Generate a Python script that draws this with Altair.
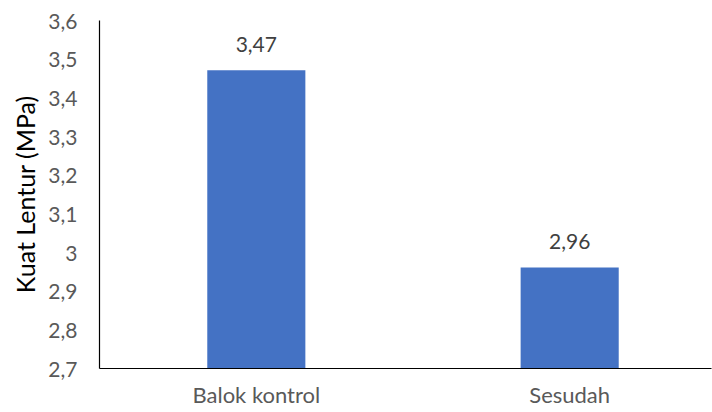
import altair as alt
import pandas as pd

categories = ["Balok kontrol", "Sesudah"]
values = [3.47, 2.96]
y_ticks = [2.7, 2.8, 2.9, 3.0, 3.1, 3.2, 3.3, 3.4, 3.5, 3.6]

df = pd.DataFrame({"cat": categories, "val": values})

FONT = "Lato"
SHIFT = 8

base = alt.Chart(df).encode(
    x=alt.X(
        "cat:N",
        sort=categories,
        title=None,
        scale=alt.Scale(paddingInner=0.687, paddingOuter=0.32),
        axis=alt.Axis(
            labelAngle=0,
            labelFont=FONT,
            labelFontSize=22,
            labelColor="#595959",
            labelPadding=17,
            labelOffset=SHIFT,
            ticks=False,
            domainColor="#000000",
            domainWidth=1.2,
        ),
    ),
    y=alt.Y(
        "val:Q",
        title="Kuat Lentur (MPa)",
        scale=alt.Scale(domain=[2.7, 3.6], nice=False, zero=False),
        axis=alt.Axis(
            values=y_ticks,
            format=".1~f",
            labelFont=FONT,
            labelFontSize=21,
            labelColor="#595959",
            labelPadding=22,
            labelBaseline="middle",
            labelOffset=2,
            labelFlush=False,
            ticks=False,
            grid=False,
            domainColor="#000000",
            domainWidth=1.2,
            titleFont=FONT,
            titleFontSize=25,
            titleFontWeight="normal",
            titleColor="#000000",
            titlePadding=8,
        ),
    ),
)

bars = base.mark_bar(color="#4472C4", xOffset=SHIFT, clip=True)
labels = base.mark_text(
    baseline="bottom", dy=-14, xOffset=SHIFT, font=FONT, fontSize=21, color="#404040"
).encode(text=alt.Text("val:Q", format=".2f"))

chart = (
    (bars + labels)
    .properties(
        width=612,
        height=348,
        autosize=alt.AutoSizeParams(type="none"),
        padding={"left": 99, "top": 20, "right": 1, "bottom": 44},
    )
    .configure(
        locale={
            "number": {
                "decimal": ",",
                "thousands": ".",
                "grouping": [3],
                "currency": ["", ""],
            }
        }
    )
    .configure_view(stroke=None)
)

chart.save("out.html", embed_options={"renderer": "svg", "actions": False})
